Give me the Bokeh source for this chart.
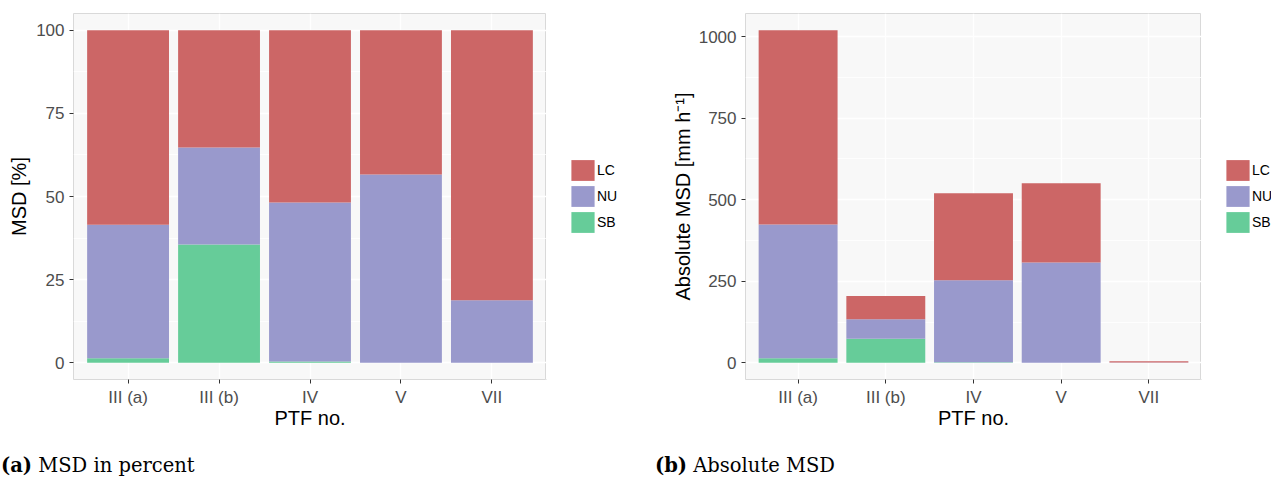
from bokeh.plotting import figure
from bokeh.models import (Range1d, FactorRange, FixedTicker, Legend, LegendItem,
                          ColumnDataSource, Div)
from bokeh.layouts import row, column
from bokeh.embed import file_html
from bokeh.resources import INLINE

# ---------------- data ----------------
ptf = ["III (a)", "III (b)", "IV", "V", "VII"]
components = ["SB", "NU", "LC"]          # stacking order, bottom to top
legend_order = ["LC", "NU", "SB"]
colors = {"LC": "#CC6666", "NU": "#9999CC", "SB": "#66CC99"}

pct_SB = [1.4, 35.6, 0.4, 0.0, 0.0]
pct_NU = [40.1, 29.1, 47.8, 56.6, 18.8]
pct_LC = [58.5, 35.3, 51.8, 43.4, 81.2]

abs_SB = [14.0, 74.0, 1.5, 0.0, 0.0]
abs_NU = [410.0, 60.0, 251.5, 308.0, 1.0]
abs_LC = [596.0, 71.0, 267.0, 243.0, 4.0]

pct_ticks = [0, 25, 50, 75, 100]
pct_minor = [12.5, 37.5, 62.5, 87.5]
abs_ticks = [0, 250, 500, 750, 1000]
abs_minor = [125, 375, 625, 875]

FONT = "Liberation Sans"
H = 455


def panel(fw, bl, yr, ticks, minor, ylabel, sb, nu, lc, title_standoff):
    src = ColumnDataSource(dict(ptf=ptf, SB=sb, NU=nu, LC=lc))
    p = figure(x_range=FactorRange(factors=ptf, range_padding=0.1,
                                   range_padding_units="absolute"),
               y_range=Range1d(*yr), width=bl + fw, height=H,
               min_border_left=bl, min_border_right=0,
               min_border_top=13, min_border_bottom=76,
               output_backend="svg", toolbar_location=None)
    p.background_fill_color = "#F8F8F8"
    p.border_fill_color = "white"
    p.outline_line_color = "#D9D9D9"
    p.outline_line_width = 1

    p.vbar_stack(components, x="ptf", width=0.9, source=src,
                 fill_color=[colors[c] for c in components], line_color=None)

    p.yaxis.ticker = FixedTicker(ticks=ticks, minor_ticks=minor)
    p.xgrid.grid_line_color = "white"
    p.xgrid.grid_line_width = 1.5
    p.ygrid.grid_line_color = "white"
    p.ygrid.grid_line_width = 1.5
    p.ygrid.minor_grid_line_color = "white"
    p.ygrid.minor_grid_line_width = 0.8

    for ax in (p.xaxis, p.yaxis):
        ax.axis_line_color = None
        ax.major_tick_out = 4
        ax.major_tick_in = 0
        ax.minor_tick_out = 0
        ax.minor_tick_in = 0
        ax.major_tick_line_color = "#333333"
        ax.major_label_text_font = FONT
        ax.major_label_text_font_size = "17px"
        ax.major_label_text_color = "#4D4D4D"
        ax.axis_label_text_font = FONT
        ax.axis_label_text_font_size = "20px"
        ax.axis_label_text_font_style = "normal"
        ax.axis_label_text_color = "black"
    p.xaxis.axis_label = "PTF no."
    p.xaxis.major_label_standoff = 4
    p.xaxis.axis_label_standoff = -3
    p.yaxis.axis_label = ylabel
    p.yaxis.major_label_standoff = 5
    p.yaxis.axis_label_standoff = title_standoff
    return p


def legend_fig(width):
    # a narrow, axis-less figure that only carries the legend (ggplot-style legend column)
    lf = figure(width=width, height=H, x_range=Range1d(0, 1), y_range=Range1d(0, 1),
                min_border=0, x_axis_type=None, y_axis_type=None,
                output_backend="svg", toolbar_location=None)
    lf.outline_line_color = None
    lf.background_fill_color = "white"
    lf.border_fill_color = "white"
    lf.grid.visible = False
    items = []
    for c in legend_order:
        # off-range key glyph: only its legend swatch is visible
        r = lf.vbar(x=[-5], top=[-5], bottom=[-6], width=0.9,
                    fill_color=colors[c], line_color=None)
        items.append(LegendItem(label=c, renderers=[r]))
    legend = Legend(items=items, location=(22, 144), orientation="vertical",
                    glyph_width=29, glyph_height=26, spacing=0, padding=0, margin=0,
                    label_standoff=-1, label_text_font=FONT, label_text_font_size="14px",
                    label_text_color="black", label_height=20,
                    border_line_color=None, background_fill_alpha=0)
    lf.add_layout(legend)
    return lf


p1 = panel(473, 73, (-5, 105), pct_ticks, pct_minor, "MSD [%]",
           pct_SB, pct_NU, pct_LC, 3)
l1 = legend_fig(104)
p2 = panel(456, 95, (-51, 1071), abs_ticks, abs_minor, "Absolute MSD [mm h\u207b\u00b9]",
           abs_SB, abs_NU, abs_LC, 2)
l2 = legend_fig(70)

cap_style = ("font-family:'DejaVu Serif';font-size:19.5px;line-height:19px;"
             "white-space:nowrap;color:black;padding-left:%dpx")
d1 = Div(text='<div style="%s"><b>(a)</b> MSD in percent</div>' % (cap_style % 1),
         width=650, height=22, margin=(1, 0, 0, 0))
d2 = Div(text='<div style="%s"><b>(b)</b> Absolute MSD</div>' % (cap_style % 5),
         width=621, height=22, margin=(1, 0, 0, 0))

layout = column(row(p1, l1, p2, l2, spacing=0), row(d1, d2, spacing=0), spacing=0)
open("out.html", "w").write(file_html(layout, INLINE))
